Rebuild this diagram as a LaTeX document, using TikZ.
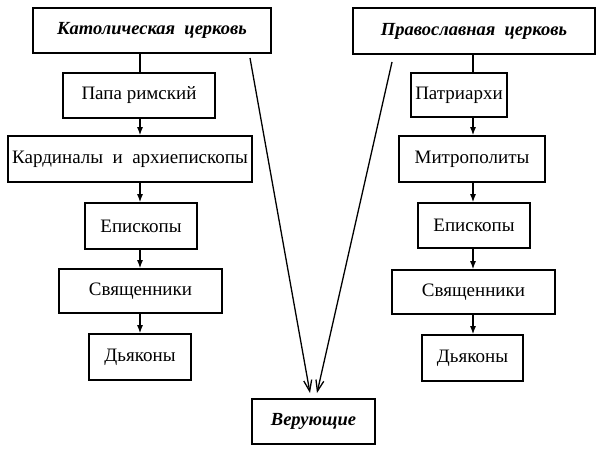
\documentclass[tikz,border=0pt]{standalone}
\usepackage{fontspec}
\setmainfont{Liberation Serif}
\usetikzlibrary{arrows.meta}
\begin{document}
\begin{tikzpicture}[x=1pt,y=-1pt,
  box/.style={draw,line width=1.6pt,rectangle,inner sep=0pt,font=\fontsize{19}{22}\selectfont},
  head/.style={box,font=\fontsize{18.5}{22}\selectfont\bfseries\itshape},
  link/.style={line width=1.3pt},
  arr/.style={line width=1.3pt,-{Latex[length=8pt,width=6pt]}},
  bigarr/.style={line width=1.3pt,-{Straight Barb[length=11pt,width=8pt,line width=1.3pt]}}]
\useasboundingbox (0,0) rectangle (600,452);
% left column
\node[head,minimum width=238pt,minimum height=45pt] (kat) at (152,30.5) {Католическая\ \ церковь};
\node[box,minimum width=152pt,minimum height=45pt] (papa) at (139,95.5) {Папа\ римский};
\node[box,minimum width=244pt,minimum height=46pt] (kard) at (130,159) {Кардиналы\ \ и\ \ архиепископы};
\node[box,minimum width=112pt,minimum height=46pt] (epL) at (141,226) {Епископы};
\node[box,minimum width=163pt,minimum height=44pt] (svL) at (140.5,291) {Священники};
\node[box,minimum width=102pt,minimum height=46pt] (dyL) at (140,357) {Дьяконы};
% right column
\node[head,minimum width=242pt,minimum height=46pt] (prav) at (474,31) {Православная\ \ церковь};
\node[box,minimum width=96pt,minimum height=44pt] (patr) at (459,95) {Патриархи};
\node[box,minimum width=146pt,minimum height=46pt] (mitr) at (472,159) {Митрополиты};
\node[box,minimum width=112pt,minimum height=45pt] (epR) at (474,225.5) {Епископы};
\node[box,minimum width=163pt,minimum height=44pt] (svR) at (473.5,292) {Священники};
\node[box,minimum width=101pt,minimum height=46pt] (dyR) at (472.5,358) {Дьяконы};
% bottom
\node[head,minimum width=123pt,minimum height=45pt] (ver) at (313.5,421.5) {Верующие};
% left connectors
\coordinate (lx) at (140,0);
\draw[link] (lx |- kat.south) -- (lx |- papa.north);
\draw[arr] (lx |- papa.south) -- (lx |- kard.north);
\draw[arr] (lx |- kard.south) -- (lx |- epL.north);
\draw[arr] (lx |- epL.south) -- (lx |- svL.north);
\draw[arr] (lx |- svL.south) -- (lx |- dyL.north);
% right connectors
\coordinate (rx) at (473,0);
\draw[link] (rx |- prav.south) -- (rx |- patr.north);
\draw[arr] (rx |- patr.south) -- (rx |- mitr.north);
\draw[arr] (rx |- mitr.south) -- (rx |- epR.north);
\draw[arr] (rx |- epR.south) -- (rx |- svR.north);
\draw[arr] (rx |- svR.south) -- (rx |- dyR.north);
% converging arrows
\coordinate (ls) at (250,58);
\coordinate (rs) at (392,62);
\coordinate (le) at (310,393);
\coordinate (re) at (317,393);
\draw[bigarr] (ls) -- (le);
\draw[bigarr] (rs) -- (re);
\end{tikzpicture}
\end{document}
